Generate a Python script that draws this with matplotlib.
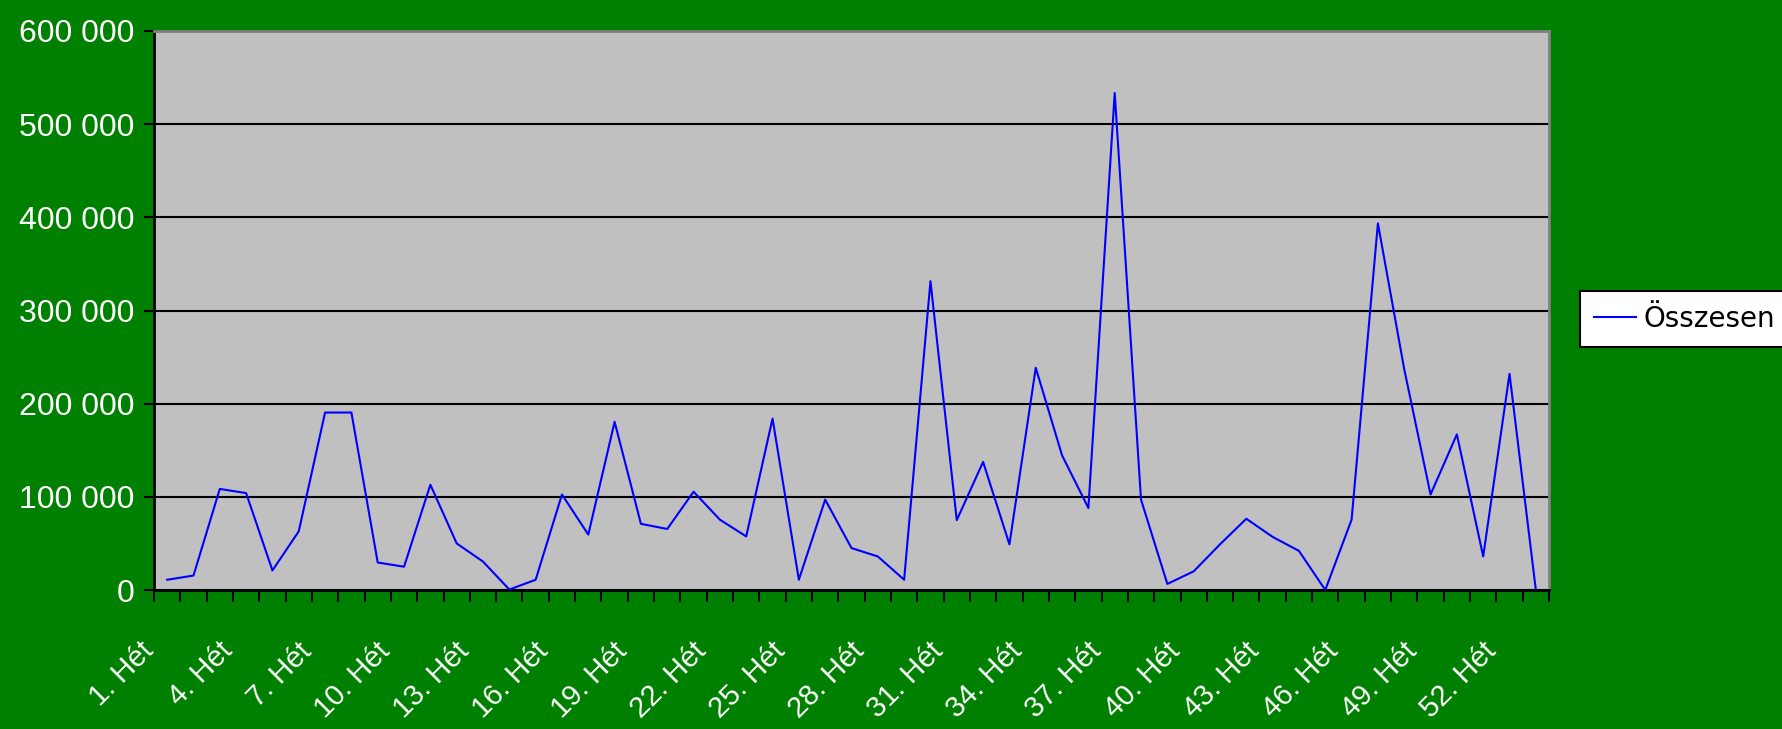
import matplotlib
matplotlib.use("Agg")
import matplotlib.pyplot as plt
import matplotlib.transforms as mtransforms
import numpy as np

# ---- data ----
weeks = list(range(1, 54))
week_labels = [f"{w}. Hét" for w in weeks]
osszesen = [11000, 15500, 108500, 104000, 21000, 63000, 190500, 190500, 29500, 25000,
            113000, 50000, 30500, 500, 11000, 102500, 59500, 180500, 71000, 65500,
            105500, 75500, 57500, 184000, 11000, 97000, 45000, 36000, 11000, 331500,
            75000, 137500, 49000, 238500, 144500, 88000, 533500, 97000, 6500, 20000,
            49000, 76500, 57000, 42000, 0, 75500, 393500, 237000, 102500, 167000,
            36000, 232000, 0]
series_name = "Összesen"
y_ticks = [0, 100000, 200000, 300000, 400000, 500000, 600000]

W, H = 1783, 729
fig = plt.figure(figsize=(W / 100, H / 100), dpi=100)
fig.patch.set_facecolor("#008000")

left, right, top, bottom = 154, 1549, 31, 590
ax = fig.add_axes([left / W, 1 - bottom / H, (right - left) / W, (bottom - top) / H])
ax.set_facecolor("#C0C0C0")

x = np.arange(1, len(osszesen) + 1)
ax.plot(x, osszesen, color="#0000FF", lw=1.5, zorder=3, label=series_name)

ax.set_xlim(0.5, len(osszesen) + 0.5)
ax.set_ylim(0, 600000)

# grid
ax.set_yticks(y_ticks)
ax.set_yticklabels([f"{v:,}".replace(",", " ") for v in y_ticks],
                   fontsize=23, color="white", family=["Liberation Sans", "DejaVu Sans"])
ax.yaxis.grid(True, color="black", lw=1.5, zorder=1)
ax.set_axisbelow(True)
ax.tick_params(axis="y", direction="out", length=7, width=1.5, color="black", pad=7)

# x ticks at category boundaries
ax.set_xticks(np.arange(0.5, len(osszesen) + 1, 1.0))
ax.set_xticklabels([])
ax.tick_params(axis="x", direction="out", length=8.6, width=1.5, color="black")

# x labels every 3 weeks
off = mtransforms.offset_copy(ax.get_xaxis_transform(), fig=fig, x=-28, y=-47, units="dots")
for i in range(0, len(weeks), 3):
    ax.text(x[i], 0, week_labels[i], transform=off, rotation=45, rotation_mode="anchor",
            ha="right", va="top", fontsize=21, color="white",
            family=["Liberation Sans", "DejaVu Sans"])

# spines
for s in ["left", "bottom"]:
    ax.spines[s].set_color("black")
    ax.spines[s].set_linewidth(2.0)
for s in ["top", "right"]:
    ax.spines[s].set_color("#808080")
    ax.spines[s].set_linewidth(2.0)

# legend
leg = ax.legend(loc="center left",
                bbox_to_anchor=(1580 / W, 1 - 345 / H, 230 / W, 52 / H),
                bbox_transform=fig.transFigure, mode="expand", frameon=True, fancybox=False,
                fontsize=20, handlelength=1.5, handletextpad=0.3, borderpad=0.5,
                borderaxespad=0)
leg.get_frame().set_edgecolor("black")
leg.get_frame().set_linewidth(1.5)
leg.get_frame().set_facecolor("white")
leg.get_frame().set_alpha(1)
for t in leg.get_texts():
    t.set_family(["DejaVu Sans"])
    t.set_color("black")

fig.savefig("out.png", dpi=100, facecolor=fig.get_facecolor())
